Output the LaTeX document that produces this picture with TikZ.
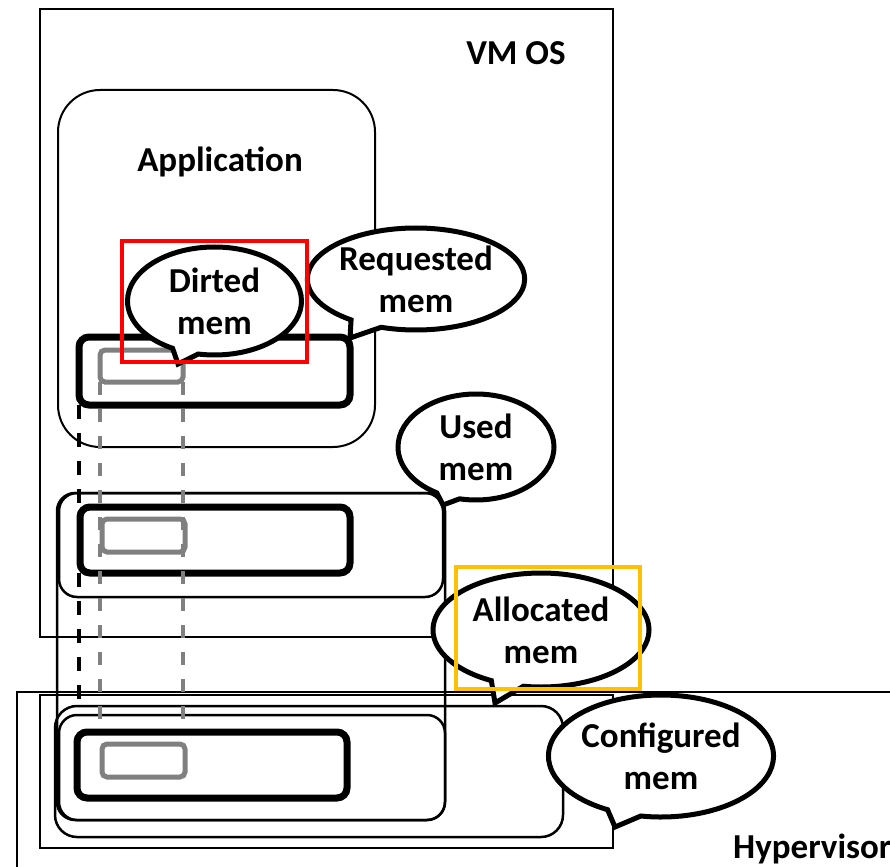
\documentclass[tikz,border=0pt]{standalone}
\usepackage{fontspec}
\setmainfont{Carlito}
\usetikzlibrary{shapes.callouts}
\definecolor{hlred}{RGB}{255,0,0}
\definecolor{hlgold}{RGB}{255,192,0}
\definecolor{memgrey}{RGB}{128,128,128}
\tikzset{
  lbl/.style={font=\fontsize{35}{42}\selectfont\bfseries, inner sep=0pt},
  frame/.style={draw, line width=2.5pt, rectangle, inner sep=0pt, outer sep=0pt},
  region/.style={draw, line width=2.5pt, rectangle, rounded corners=18pt, inner sep=0pt, outer sep=0pt},
  membar/.style={draw, line width=7pt, rectangle, rounded corners=10pt, inner sep=0pt, outer sep=0pt},
  memchunk/.style={draw=memgrey, line width=5pt, rectangle, rounded corners=5pt, inner sep=0pt, outer sep=0pt},
  bubble/.style={ellipse callout, draw, fill=white, line width=5pt, inner sep=0pt, outer sep=0pt,
    callout pointer arc=18, align=center, font=\fontsize{35}{42}\selectfont\bfseries},
  blackdash/.style={line width=4pt, dash pattern=on 14pt off 14pt},
  greydash/.style={draw=memgrey, line width=3.5pt, dash pattern=on 13pt off 14pt},
  highlight/.style={line width=4pt}
}
\begin{document}
\begin{tikzpicture}[x=1pt, y=-1pt]
\useasboundingbox (0,0) rectangle (890,866);
\clip (0,0) rectangle (890,866);

% guest OS and hypervisor frames
\node[frame, minimum width=573, minimum height=628] (vmos) at (326.5,323) {};
\node[lbl, anchor=base] (vmoslbl) at (516,65) {VM OS};
\draw[line width=2.5pt] (17,960) |- (960,692) coordinate (hvtop);
\node[frame, minimum width=573, minimum height=153] (vmhv) at (326.5,771.5) {};

% application
\node[region, rounded corners=42pt, line width=2pt, minimum width=317, minimum height=357] (app) at (216.5,268.5) {};
\node[lbl, anchor=base] (applbl) at (220,172) {Application};

% memory regions
\node[region, minimum width=388, minimum height=327] (alloc) at (251,656.5) {};
\node[region, minimum width=384, minimum height=104] (used) at (251,545) {};
\node[region, minimum width=386, minimum height=105] (allochv) at (252,767.5) {};
\node[region, rounded corners=22pt, minimum width=508, minimum height=131] (config) at (309,771.5) {};

% memory bars
\node[membar, minimum width=271, minimum height=68] (bar1) at (214.5,371) {};
\node[membar, minimum width=270, minimum height=66] (bar2) at (215,540) {};
\node[membar, minimum width=270, minimum height=66] (bar3) at (212,765) {};
\node[memchunk, minimum width=83, minimum height=32] (chunk1) at (141.5,366) {};
\node[memchunk, minimum width=83, minimum height=33] (chunk2) at (143.5,535.5) {};
\node[memchunk, minimum width=83, minimum height=33] (chunk3) at (143.5,760.5) {};

% projections down through the layers
\draw[blackdash] (bar1.south west) -- (bar1.south west |- config.north);
\draw[greydash] (chunk1.south west) -- (chunk1.south west |- bar3.north);
\draw[greydash] (chunk1.south east) -- (chunk1.south east |- bar3.north);

% speech bubbles
\node[bubble, minimum width=174, minimum height=108, callout absolute pointer={(178,364)}] (dirted) at (214.5,301) {Dirted\\mem};
\node[bubble, minimum width=212, minimum height=102, callout absolute pointer={(350,338)}] (requested) at (416,279) {Requested\\mem};
\node[bubble, minimum width=156, minimum height=106, callout absolute pointer={(443,505)}] (usedb) at (476,447) {Used\\mem};
\node[bubble, minimum width=216, minimum height=114, callout absolute pointer={(495,703)}] (allocb) at (541,630) {Allocated\\mem};
\node[bubble, minimum width=218, minimum height=122, callout absolute pointer={(615,827)}] (configb) at (661,756) {Configured\\mem};

% highlight boxes
\draw[highlight, hlred] (122,241) rectangle (307,362);
\draw[highlight, hlgold] (456,567) rectangle (640,689);

\node[lbl, anchor=base west] (hvlbl) at (733,858) {Hypervisor};
\end{tikzpicture}
\end{document}
